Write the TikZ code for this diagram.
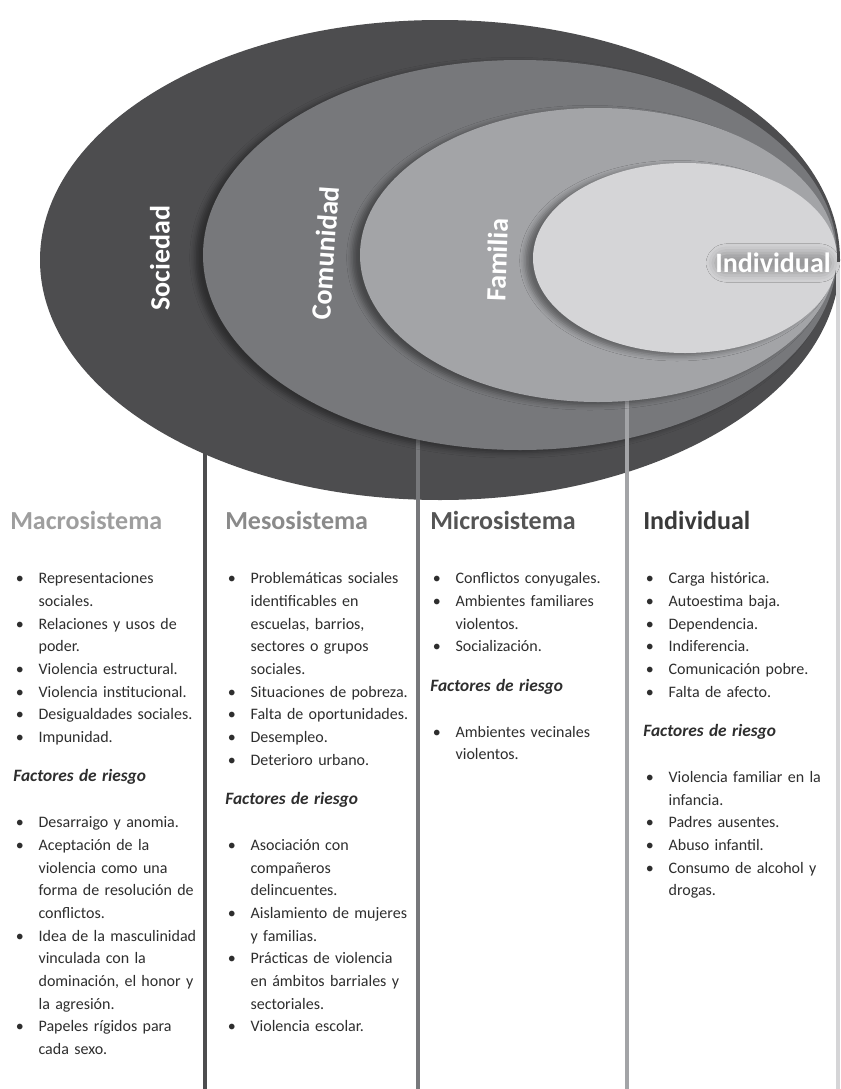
\documentclass[tikz,border=0pt]{standalone}
\usepackage{fontspec}
\setmainfont{Carlito}
\usepackage{enumitem}
\usetikzlibrary{positioning, shapes.geometric, shadows.blur}
\definecolor{SocGray}{HTML}{4D4D4F}
\definecolor{ComGray}{HTML}{77787B}
\definecolor{FamGray}{HTML}{A3A4A7}
\definecolor{IndGray}{HTML}{D5D5D7}
\definecolor{MacroHead}{HTML}{9E9E9E}
\definecolor{MesoHead}{HTML}{8A8A8A}
\definecolor{MicroHead}{HTML}{555555}
\definecolor{IndHead}{HTML}{3A3A3A}
\definecolor{BodyText}{HTML}{2E2E2E}
\setlist[itemize]{nosep, label=\textbullet, leftmargin=19pt, labelsep=11pt, before=\raggedright}
\newcommand{\riesgo}{\par\vspace{12.5pt}\noindent{\fontsize{13}{17}\selectfont\bfseries\itshape Factores de riesgo}\par\vspace{17.5pt}}

\begin{document}
\begin{tikzpicture}[
            x=0.75pt, y=-0.75pt,
            circulo/.style={ellipse, inner sep=0pt, draw=none},
            sombra/.style={blur shadow={shadow xshift=-6pt, shadow yshift=-2pt, shadow blur radius=4pt, shadow opacity=40}},
            etiqueta/.style={text=white, font=\fontsize{21}{21}\selectfont\bfseries, inner sep=0pt},
            raya/.style={line width=3pt},
            titulo/.style={anchor=base west, inner sep=0pt, font=\fontsize{19.5}{20}\selectfont\bfseries},
            lista/.style={anchor=north west, inner sep=0pt, text width=150pt, align=left, text=BodyText, font=\fontsize{12}{17}\selectfont}
        ]
            \useasboundingbox[fill=white] (0,0) rectangle (841,1089);

            % lineas de cada nivel
            \coordinate (soctop) at (205,400);
            \coordinate (socbot) at (205,1089);
            \coordinate (comtop) at (418,300);
            \coordinate (combot) at (418,1089);
            \coordinate (famtop) at (627,300);
            \coordinate (fambot) at (627,1089);
            \coordinate (indtop) at (838,262);
            \coordinate (indbot) at (838,1089);

            \draw[raya, SocGray] (soctop) -- (socbot);
            \node[circulo, fill=SocGray, minimum width=600pt, minimum height=360pt] (sociedad) at (440,260) {};
            \draw[raya, ComGray] (comtop) -- (combot);
            \node[circulo, sombra, fill=ComGray, minimum width=475.5pt, minimum height=292.5pt] (comunidad) at (520,255) {};
            \draw[raya, FamGray] (famtop) -- (fambot);
            \node[circulo, sombra, fill=FamGray, minimum width=357pt, minimum height=220.5pt] (familia) at (598,255) {};
            \draw[raya, IndGray] (indtop) -- (indbot);
            \node[circulo, sombra, fill=IndGray, minimum width=228pt, minimum height=142.5pt] (individuo) at (685,258) {};

            \node[etiqueta, rotate=90] (socLabel) at (160,258) {Sociedad};
            \node[etiqueta, rotate=86] (comLabel) at (325,253) {Comunidad};
            \node[etiqueta, rotate=88] (famLabel) at (497,260) {Familia};
            \node[etiqueta, rounded corners=8pt, blur shadow={shadow xshift=0pt, shadow yshift=0pt, shadow blur radius=7pt, shadow opacity=30}] (indLabel) at (773,263) {Individual};

            % columnas
            \node[titulo, text=MacroHead] (macro) at (10,529) {Macrosistema};
            \node[titulo, text=MesoHead] (meso) at (225,529) {Mesosistema};
            \node[titulo, text=MicroHead] (micro) at (430,529) {Microsistema};
            \node[titulo, text=IndHead] (indiv) at (643,529) {Individual};

            \node[lista] (macroTxt) at (13,561) {%
                \begin{itemize}
                \item Representaciones\\ sociales.
                \item Relaciones y usos de\\ poder.
                \item Violencia estructural.
                \item Violencia institucional.
                \item Desigualdades sociales.
                \item Impunidad.
                \end{itemize}
                \riesgo
                \begin{itemize}
                \item Desarraigo y anomia.
                \item Aceptación de la\\ violencia como una\\ forma de resolución de\\ conflictos.
                \item Idea de la masculinidad\\ vinculada con la\\ dominación, el honor y\\ la agresión.
                \item Papeles rígidos para\\ cada sexo.
                \end{itemize}};

            \node[lista] (mesoTxt) at (225,561) {%
                \begin{itemize}
                \item Problemáticas sociales\\ identificables en\\ escuelas, barrios,\\ sectores o grupos\\ sociales.
                \item Situaciones de pobreza.
                \item Falta de oportunidades.
                \item Desempleo.
                \item Deterioro urbano.
                \end{itemize}
                \riesgo
                \begin{itemize}
                \item Asociación con\\ compañeros\\ delincuentes.
                \item Aislamiento de mujeres\\ y familias.
                \item Prácticas de violencia\\ en ámbitos barriales y\\ sectoriales.
                \item Violencia escolar.
                \end{itemize}};

            \node[lista] (microTxt) at (430,561) {%
                \begin{itemize}
                \item Conflictos conyugales.
                \item Ambientes familiares\\ violentos.
                \item Socialización.
                \end{itemize}
                \riesgo
                \begin{itemize}
                \item Ambientes vecinales\\ violentos.
                \end{itemize}};

            \node[lista] (indivTxt) at (643,561) {%
                \begin{itemize}
                \item Carga histórica.
                \item Autoestima baja.
                \item Dependencia.
                \item Indiferencia.
                \item Comunicación pobre.
                \item Falta de afecto.
                \end{itemize}
                \riesgo
                \begin{itemize}
                \item Violencia familiar en la\\ infancia.
                \item Padres ausentes.
                \item Abuso infantil.
                \item Consumo de alcohol y\\ drogas.
                \end{itemize}};

        \end{tikzpicture}
\end{document}
